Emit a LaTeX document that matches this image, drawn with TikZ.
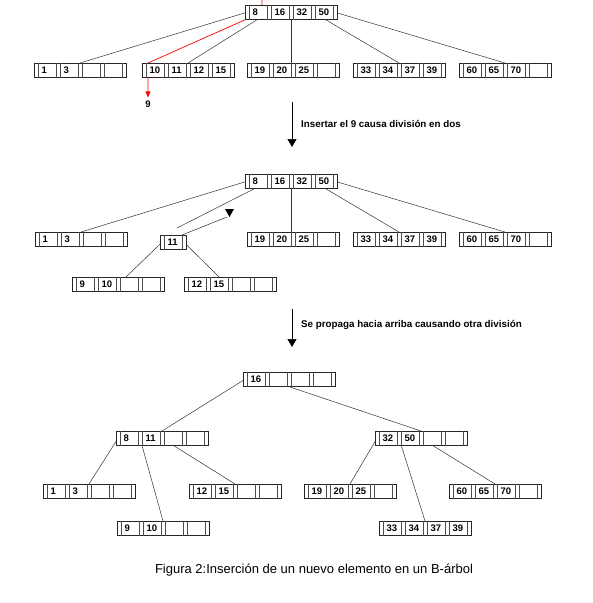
\documentclass[tikz,border=0pt]{standalone}
\usepackage{fontspec}
\setmainfont{Liberation Sans}
\usetikzlibrary{arrows.meta}
\pgfdeclarelayer{background}
\pgfsetlayers{background,main}
\tikzset{
 bbox/.style={draw=black!85, line width=0.6pt, fill=white, inner sep=0pt, outer sep=0pt, minimum height=14.5pt},
 sepline/.style={draw=black!70, line width=0.5pt},
 keytext/.style={inner sep=0pt, font=\fontsize{9.5}{10}\selectfont\bfseries},
 edge/.style={draw=black!80, line width=0.5pt},
 redline/.style={draw=red, line width=0.7pt, -{Triangle[length=6pt,width=5pt]}},
 bigarrow/.style={draw=black, line width=0.6pt, -{Triangle[length=8pt,width=9pt]}},
 note/.style={anchor=west, inner sep=0pt, font=\fontsize{9.8}{11}\selectfont\bfseries},
 captiontext/.style={inner sep=0pt, font=\fontsize{13}{15}\selectfont}
}
% name, x0, y0, number of key cells, keys
\newcommand{\bnode}[5]{%
  \node[bbox, minimum width={#4*22pt+4pt}, anchor=north west] (#1) at (#2,#3) {};
  \foreach \i in {1,...,#4} {
    \draw[sepline] ([xshift={22*(\i-1)+4}]#1.north west) -- ([xshift={22*(\i-1)+4}]#1.south west);
    \draw[sepline] ([xshift={22*\i}]#1.north west) -- ([xshift={22*\i}]#1.south west);
  }
  \foreach \t [count=\i] in {#5} {
    \node[keytext, anchor=west] (#1k\i) at ([xshift={22*\i-14.5}]#1.west) {\t};
  }
}
\begin{document}
\begin{tikzpicture}[x=1pt,y=-1pt]
\useasboundingbox (0,0) rectangle (593,603);

% ---------- diagram 1 ----------
\bnode{r1}{245}{5}{4}{8,16,32,50}
\bnode{a1}{34}{63}{4}{1,3}
\bnode{b1}{142}{63}{4}{10,11,12,15}
\bnode{c1}{247}{63}{4}{19,20,25}
\bnode{d1}{353}{63}{4}{33,34,37,39}
\bnode{e1}{459}{63}{4}{60,65,70}
\node[keytext] (nine) at (148,104) {9};

% ---------- diagram 2 ----------
\bnode{r2}{245}{174}{4}{8,16,32,50}
\bnode{a2}{35}{232}{4}{1,3}
\bnode{m2}{160}{235}{1}{11}
\bnode{c2}{247}{232}{4}{19,20,25}
\bnode{d2}{353}{232}{4}{33,34,37,39}
\bnode{e2}{459}{232}{4}{60,65,70}
\bnode{f2}{72}{277}{4}{9,10}
\bnode{g2}{184}{277}{4}{12,15}

% ---------- diagram 3 ----------
\bnode{r3}{243}{372}{4}{16}
\bnode{p3}{116}{431}{4}{8,11}
\bnode{q3}{375}{431}{4}{32,50}
\bnode{a3}{43}{484}{4}{1,3}
\bnode{b3}{117}{521}{4}{9,10}
\bnode{c3}{189}{484}{4}{12,15}
\bnode{d3}{304}{484}{4}{19,20,25}
\bnode{e3}{379}{521}{4}{33,34,37,39}
\bnode{f3}{449}{484}{4}{60,65,70}

% ---------- annotations ----------
\coordinate (arA1) at (292,102);
\coordinate (arA2) at (292,147);
\draw[bigarrow] (arA1) -- (arA2);
\node[note] (noteA) at (301,124) {Insertar el 9 causa división en dos};
\coordinate (arB1) at (292,309);
\coordinate (arB2) at (292,347);
\draw[bigarrow] (arB1) -- (arB2);
\node[note] (noteB) at (301,325) {Se propaga hacia arriba causando otra división};
\node[captiontext] (cap) at (314,570) {Figura 2:Inserción de un nuevo elemento en un B-árbol};

% ---------- connectors (behind the nodes) ----------
\begin{pgfonlayer}{background}
 \fill[white] (0,0) rectangle (593,603);
 % diagram 1
 \draw[edge] ([xshift=2]r1.west) -- ([xshift=46]a1.north west);
 \draw[edge] ([xshift=24]r1.west) -- ([xshift=46]b1.north west);
 \coordinate (r1s2) at ([xshift=46]r1.west);
 \draw[edge] (r1s2) -- (r1s2 |- c1.north);
 \draw[edge] ([xshift=68]r1.west) -- ([xshift=46]d1.north west);
 \draw[edge] ([xshift=90]r1.west) -- ([xshift=46]e1.north west);
 \coordinate (redin) at (262,0);
 \coordinate (redA) at ([xshift=17]r1.west);
 \coordinate (redB) at ([xshift=6]b1.north west);
 \draw[redline] (redin) -- (redA) -- (redB) -- ([yshift=3pt]redB |- nine.north);
 % diagram 2
 \draw[edge] ([xshift=2]r2.west) -- ([xshift=46]a2.north west);
 \coordinate (cut) at (177,228);
 \draw[edge] ([xshift=24]r2.west) -- (cut);
 \coordinate (r2s2) at ([xshift=46]r2.west);
 \draw[edge] (r2s2) -- (r2s2 |- c2.north);
 \draw[edge] ([xshift=68]r2.west) -- ([xshift=46]d2.north west);
 \draw[edge] ([xshift=90]r2.west) -- ([xshift=46]e2.north west);
 \draw[edge] ([xshift=2]m2.west) -- ([xshift=54]f2.north west);
 \draw[edge] ([xshift=24]m2.west) -- ([xshift=35]g2.north west);
 \coordinate (upend) at (227,217);
 \draw[edge] ([xshift=22]m2.north west) -- (upend);
 \fill[black] (225,209) -- (234,209) -- (229.5,217) -- cycle;
 % diagram 3
 \draw[edge] ([xshift=2]r3.west) -- ([xshift=46]p3.north west);
 \draw[edge] ([xshift=24]r3.west) -- ([xshift=46]q3.north west);
 \draw[edge] ([xshift=2]p3.west) -- ([xshift=46]a3.north west);
 \draw[edge] ([xshift=24]p3.west) -- ([xshift=46]b3.north west);
 \draw[edge] ([xshift=46]p3.west) -- ([xshift=46]c3.north west);
 \draw[edge] ([xshift=2]q3.west) -- ([xshift=46]d3.north west);
 \draw[edge] ([xshift=24]q3.west) -- ([xshift=46]e3.north west);
 \draw[edge] ([xshift=46]q3.west) -- ([xshift=46]f3.north west);
\end{pgfonlayer}
\end{tikzpicture}
\end{document}
